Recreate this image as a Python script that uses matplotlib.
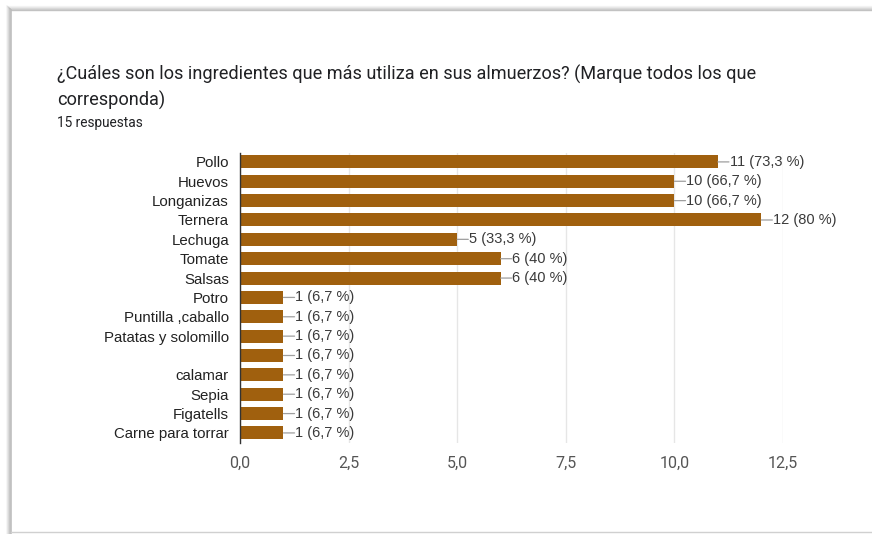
import matplotlib
matplotlib.use("Agg")
import matplotlib.pyplot as plt
from matplotlib.lines import Line2D

categories = ["Pollo", "Huevos", "Longanizas", "Ternera", "Lechuga", "Tomate", "Salsas",
              "Potro", "Puntilla ,caballo", "Patatas y solomillo", "", "calamar", "Sepia",
              "Figatells", "Carne para torrar"]
values = [11, 10, 10, 12, 5, 6, 6, 1, 1, 1, 1, 1, 1, 1, 1]
percent_labels = ["73,3 %", "66,7 %", "66,7 %", "80 %", "33,3 %", "40 %", "40 %",
                  "6,7 %", "6,7 %", "6,7 %", "6,7 %", "6,7 %", "6,7 %", "6,7 %", "6,7 %"]
x_ticks = [0, 2.5, 5.0, 7.5, 10.0, 12.5]
x_tick_labels = ["0,0", "2,5", "5,0", "7,5", "10,0", "12,5"]

title_line1 = "¿Cuáles son los ingredientes que más utiliza en sus almuerzos? (Marque todos los que"
title_line2 = "corresponda)"
subtitle = "15 respuestas"

plt.rcParams['font.family'] = ['Roboto', 'DejaVu Sans']
label_font = ['Liberation Sans', 'DejaVu Sans']

W, H = 872, 534
fig = plt.figure(figsize=(W / 100, H / 100), dpi=100)
fig.patch.set_facecolor("white")

def fx(px):
    return px / W

def fy(py):
    return 1 - py / H

# card shadow: top and left edges (soft), faint bottom edge
for i, (alpha, col) in enumerate([(0.10, "#a0a0a0"), (0.18, "#a0a0a0"), (0.30, "#a0a0a0"),
                                  (0.5, "#a8a8a8"), (0.9, "#bdbdbd")]):
    off = 4 - i
    yt = 10 - off
    xl = 11 - off
    fig.add_artist(Line2D([fx(xl), fx(880)], [fy(yt), fy(yt)], transform=fig.transFigure,
                          color=col, alpha=alpha, lw=1.0, zorder=0))
    fig.add_artist(Line2D([fx(xl), fx(xl)], [fy(yt), fy(534)], transform=fig.transFigure,
                          color=col, alpha=alpha, lw=1.3, zorder=0))
fig.add_artist(Line2D([fx(11), fx(880)], [fy(532), fy(532)], transform=fig.transFigure,
                      color="#d0d0d0", lw=1.0, zorder=0))

fig.text(57 / W, 1 - 80 / H, title_line1, fontsize=13.1, color="#202124", va="baseline")
fig.text(57 / W, 1 - 106 / H, title_line2, fontsize=13.1, color="#202124", va="baseline")
fig.text(57 / W, 1 - 127 / H, subtitle, fontsize=9.8, color="#202124", va="baseline")

left, right = 240 / W, 783 / W
bottom, top = 1 - 443 / H, 1 - 153 / H
ax = fig.add_axes([left, bottom, right - left, top - bottom])
ax.set_zorder(2)
ax.set_facecolor("none")

ypos = list(range(len(categories)))
bar_color = "#a0600e"
ax.barh(ypos, values, height=0.67, color=bar_color, zorder=3)

for y, v, p in zip(ypos, values, percent_labels):
    ax.annotate(f"{v} ({p})", xy=(v, y), xytext=(8.5, 0), textcoords="offset points",
                va="center", ha="left", fontsize=10.5, color="#3a3a3a", zorder=4,
                family=label_font)
    ax.annotate("", xy=(v, y), xytext=(8, 0), textcoords="offset points",
                arrowprops=dict(arrowstyle="-", color="#9e9e9e", lw=0.9,
                                shrinkA=0, shrinkB=0), zorder=4)

ax.set_xlim(0, 12.5)
ax.set_ylim(len(categories) - 0.48, -0.46)
ax.set_xticks(x_ticks)
ax.set_xticklabels(x_tick_labels, fontsize=11.5, color="#555555")
ax.set_yticks(ypos)
ax.set_yticklabels(categories, fontsize=10.8, color="#222222", family=label_font)
ax.tick_params(axis="both", length=0, pad=8)
ax.tick_params(axis="x", pad=9)
ax.grid(axis="x", color="#e6e6e6", linewidth=1, zorder=0)
for s in ["top", "right", "bottom"]:
    ax.spines[s].set_visible(False)
ax.spines["left"].set_color("#333333")
ax.spines["left"].set_linewidth(1.0)
ax.spines["left"].set_zorder(5)

fig.savefig("out.png", dpi=100, facecolor="white")
